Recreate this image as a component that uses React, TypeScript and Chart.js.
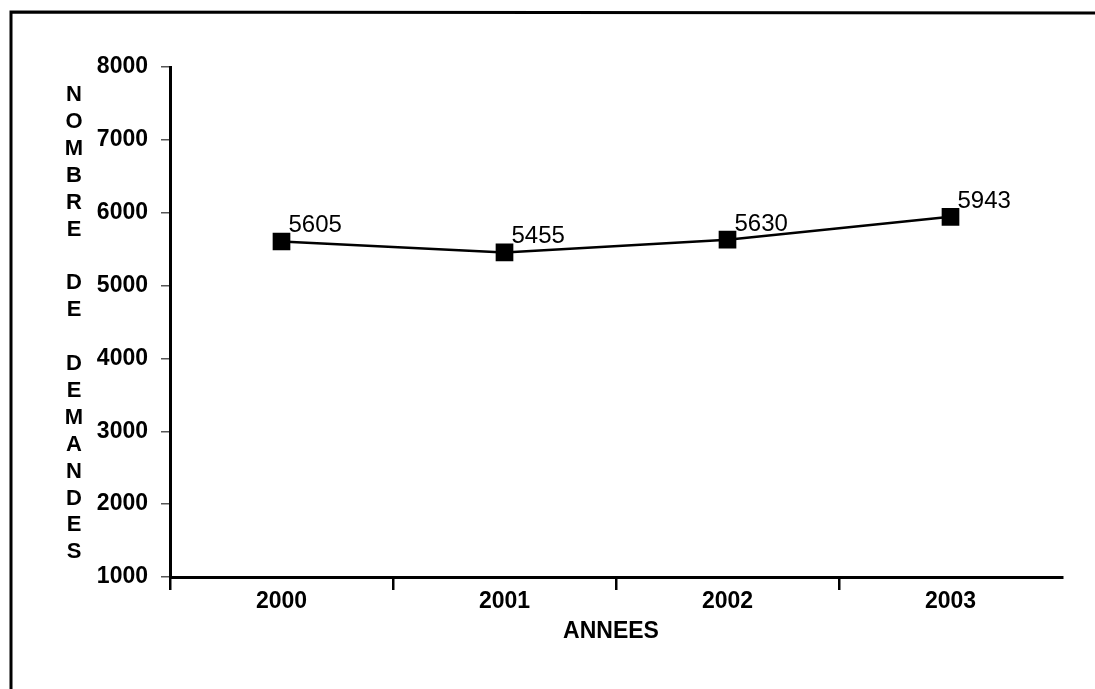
import React, { useEffect, useRef } from "react";
import { Chart, registerables } from "chart.js";

Chart.register(...registerables);

const categories = ["2000", "2001", "2002", "2003"];
const demandes = [5605, 5455, 5630, 5943];
const yTicks = [1000, 2000, 3000, 4000, 5000, 6000, 7000, 8000];
const yTitleLetters = ["N", "O", "M", "B", "R", "E", "", "D", "E", "", "D", "E", "M", "A", "N", "D", "E", "S"];
const xTitle = "ANNEES";

const FONT = "'Liberation Sans', Arial, sans-serif";

export default function App() {
  const ref = useRef<HTMLCanvasElement | null>(null);

  useEffect(() => {
    if (!ref.current) return;
    const decor = {
      id: "decor",
      beforeDraw(chart: any) {
        const ctx = chart.ctx;
        ctx.save();
        ctx.fillStyle = "#ffffff";
        ctx.fillRect(0, 0, chart.width, chart.height);
        ctx.strokeStyle = "#000";
        ctx.lineWidth = 3;
        ctx.beginPath();
        ctx.moveTo(11, 689);
        ctx.lineTo(11, 12);
        ctx.lineTo(1095, 13);
        ctx.stroke();
        ctx.restore();
      },
      afterDraw(chart: any) {
        const ctx = chart.ctx;
        const area = chart.chartArea;
        ctx.save();
        ctx.fillStyle = "#000";
        ctx.font = `bold 22px ${FONT}`;
        ctx.textAlign = "center";
        ctx.textBaseline = "middle";
        yTitleLetters.forEach((l, i) => {
          if (l) ctx.fillText(l, 74, 95 + i * 26.9);
        });
        ctx.font = `bold 23px ${FONT}`;
        ctx.fillText(xTitle, (area.left + area.right) / 2 - 5, 632);
        ctx.font = `24px ${FONT}`;
        ctx.textAlign = "left";
        ctx.textBaseline = "alphabetic";
        const meta = chart.getDatasetMeta(0);
        meta.data.forEach((pt: any, i: number) => {
          ctx.fillText(String(demandes[i]), pt.x + 7, pt.y - 9);
        });
        ctx.restore();
      },
    };

    const chart = new Chart(ref.current, {
      type: "line",
      data: {
        labels: categories,
        datasets: [
          {
            data: demandes,
            borderColor: "#000",
            borderWidth: 2.5,
            backgroundColor: "#000",
            pointStyle: "rect",
            pointRadius: 12.5,
            pointBorderWidth: 0,
            pointBackgroundColor: "#000",
            tension: 0,
          },
        ],
      },
      options: {
        animation: false,
        responsive: false,
        devicePixelRatio: 1,
        layout: { padding: { top: 67, right: 33, left: 0, bottom: 0 } },
        plugins: {
          legend: { display: false },
          tooltip: { enabled: false },
        },
        scales: {
          x: {
            type: "category",
            offset: true,
            afterFit(scale: any) {
              scale.height = 689 - 67 - 508 - 2;
            },
            grid: {
              offset: true,
              drawOnChartArea: false,
              drawTicks: true,
              tickLength: 13,
              color: (c: any) => (c.type === "tick" ? "#000" : "rgba(0,0,0,0)"),
              lineWidth: 2.5,
            },
            border: { display: true, color: "#000", width: 3 },
            ticks: {
              color: "#000",
              font: { family: FONT, size: 23, weight: "bold" },
              padding: -2,
              maxRotation: 0,
            },
          },
          y: {
            min: 1000,
            max: 8000,
            afterFit(scale: any) {
              scale.width = 170;
            },
            afterBuildTicks(scale: any) {
              scale.ticks = yTicks.map((v) => ({ value: v }));
            },
            grid: {
              drawOnChartArea: false,
              drawTicks: true,
              tickLength: 9,
              color: "#555",
              lineWidth: 1.5,
            },
            border: { display: true, color: "#000", width: 3 },
            ticks: {
              color: "#000",
              font: { family: FONT, size: 23, weight: "bold" },
              padding: 13,
              callback: (v: any) => String(v),
            },
          },
        },
      },
      plugins: [decor],
    });
    return () => chart.destroy();
  }, []);

  return (
    <div style={{ position: "absolute", left: 0, top: 0, width: 1095, height: 689 }}>
      <canvas ref={ref} width={1095} height={689} style={{ width: 1095, height: 689, display: "block" }} />
    </div>
  );
}
